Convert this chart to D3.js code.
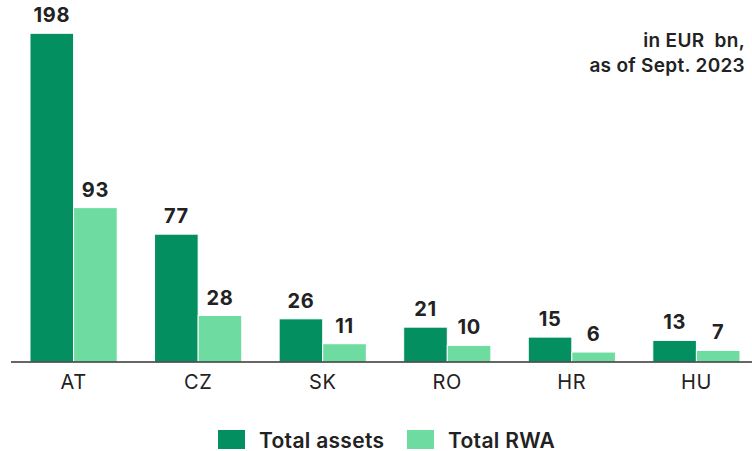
<!DOCTYPE html>
<html>
<head>
<meta charset="utf-8">
<script src="https://cdn.jsdelivr.net/npm/d3@7"></script>
<style>
  html, body { margin: 0; padding: 0; background: #fff; }
  svg { display: block; font-family: Inter, "Noto Sans", sans-serif; }
</style>
</head>
<body>
<svg id="chart" width="752" height="451"></svg>
<script>
// Balance sheet figures per country, EUR bn
const countries = ["AT", "CZ", "SK", "RO", "HR", "HU"];
const totalAssets = [198, 77, 26, 21, 15, 13];
const totalRWA = [93, 28, 11, 10, 6, 7];
const seriesNames = ["Total assets", "Total RWA"];
const seriesColors = ["#038f5f", "#6edba0"];
const noteLines = ["in EUR\u00a0 bn,", "as of Sept. 2023"];

const svg = d3.select("#chart");
const baseY = 362;

const x = d3.scaleBand().domain(countries).range([30, 740]).paddingInner(0.3).paddingOuter(0);
const xSub = d3.scaleBand().domain([0, 1]).range([0, x.bandwidth()]).padding(0);
const y = d3.scaleLinear().domain([0, 198]).range([baseY, 33.3]);

const rows = countries.map((c, i) => ({ c, vals: [totalAssets[i], totalRWA[i]] }));

const groups = svg.append("g").selectAll("g").data(rows).join("g")
  .attr("transform", d => `translate(${x(d.c)},0)`);

groups.selectAll("rect").data(d => d.vals).join("rect")
  .attr("x", (v, j) => xSub(j))
  .attr("y", v => y(v))
  .attr("width", xSub.bandwidth())
  .attr("height", v => baseY - y(v))
  .attr("fill", (v, j) => seriesColors[j])
  .attr("stroke", "#fff")
  .attr("stroke-width", 1);

groups.selectAll("text.val").data(d => d.vals).join("text")
  .attr("class", "val")
  .attr("x", (v, j) => xSub(j) + xSub.bandwidth() / 2)
  .attr("y", v => y(v) - 11)
  .attr("text-anchor", "middle")
  .attr("font-size", 20)
  .attr("font-weight", 700)
  .attr("letter-spacing", 0.6)
  .attr("fill", "#222")
  .text(v => v);

// Category axis along the baseline
const xAxis = svg.append("g")
  .attr("transform", `translate(0,${baseY})`)
  .call(d3.axisBottom(x).tickSize(0).tickPadding(13));
xAxis.select(".domain").attr("d", "M11,0H752").attr("stroke", "#333").attr("stroke-width", 1.6);
xAxis.selectAll("text")
  .attr("font-family", "Inter, 'Noto Sans', sans-serif")
  .attr("font-size", 20)
  .attr("letter-spacing", 0.6)
  .attr("fill", "#222")
  .attr("dy", "0.71em");

// Units note
svg.append("g").selectAll("text").data(noteLines).join("text")
  .attr("x", 745)
  .attr("y", (d, i) => 46.5 + i * 25)
  .attr("text-anchor", "end")
  .attr("font-size", 19)
  .attr("font-weight", 600)
  .attr("letter-spacing", 0.3)
  .attr("fill", "#222")
  .text(d => d);

// Legend
const legendX = [218, 407];
const legend = svg.append("g").selectAll("g").data(seriesNames).join("g")
  .attr("transform", (d, i) => `translate(${legendX[i]},430)`);
legend.append("rect")
  .attr("width", 27).attr("height", 19)
  .attr("fill", (d, i) => seriesColors[i]);
legend.append("text")
  .attr("x", 41).attr("y", 17.5)
  .attr("font-size", 21)
  .attr("font-weight", 600)
  .attr("letter-spacing", 0.3)
  .attr("fill", "#222")
  .text(d => d);
</script>
</body>
</html>
